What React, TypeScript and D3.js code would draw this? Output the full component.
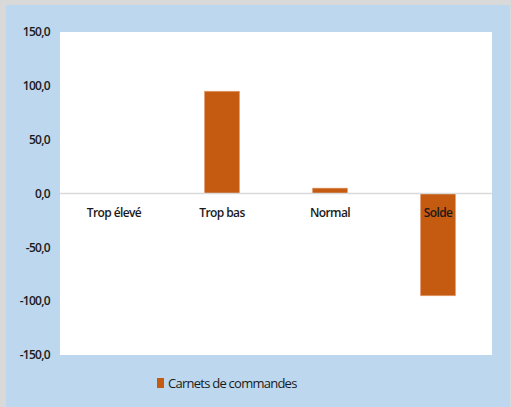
import React from "react";
import * as d3 from "d3";

const categories = ["Trop élevé", "Trop bas", "Normal", "Solde"];
const values = [0, 95, 5, -95];
const yTicks = [150, 100, 50, 0, -50, -100, -150];
const seriesName = "Carnets de commandes";

const W = 511;
const H = 407;
const plot = { left: 60, right: 492, top: 32, bottom: 355 };
const barColor = "#C55A11";
const bg = "#BDD7EE";
const font = "'Open Sans', sans-serif";

export default function App() {
  const x = d3
    .scaleBand<string>()
    .domain(categories)
    .range([plot.left, plot.right])
    .paddingInner(0.675)
    .paddingOuter(0.3375);
  const y = d3.scaleLinear().domain([-150, 150]).range([plot.bottom, plot.top]);
  const fmt = (v: number) => v.toFixed(1).replace(".", ",");

  return (
    <svg
      width={W}
      height={H}
      style={{ position: "absolute", left: 0, top: 0 }}
    >
      <rect x={0} y={0} width={W} height={H} fill="#D9D9D9" />
      <rect x={6} y={5} width={W - 7} height={H - 5} fill={bg} />
      <rect
        x={plot.left}
        y={plot.top}
        width={plot.right - plot.left}
        height={plot.bottom - plot.top}
        fill="#FFFFFF"
      />
      {yTicks.map((t) => (
        <text
          key={t}
          x={50}
          y={y(t)}
          dy="0.35em"
          textAnchor="end"
          fontFamily={font}
          fontWeight={600}
          fontSize={12}
          letterSpacing={-0.7}
          fill="#1a1a1a"
        >
          {fmt(t)}
        </text>
      ))}
      {categories.map((c, i) => {
        const v = values[i];
        const y0 = y(0);
        const y1 = y(v);
        return (
          <rect
            key={c}
            x={x(c)}
            y={Math.min(y0, y1)}
            width={x.bandwidth()}
            height={Math.abs(y1 - y0)}
            fill={barColor}
            stroke="#E8A57A"
            strokeWidth={0.6}
          />
        );
      })}
      <line
        x1={plot.left}
        x2={plot.right}
        y1={y(0)}
        y2={y(0)}
        stroke="#D9D9D9"
        strokeWidth={1.5}
      />
      {categories.map((c) => (
        <text
          key={c}
          x={(x(c) ?? 0) + x.bandwidth() / 2}
          y={y(0) + 19}
          dy="0.35em"
          textAnchor="middle"
          fontFamily={font}
          fontWeight={600}
          fontSize={12}
          letterSpacing={-0.6}
          fill="#1a1a1a"
        >
          {c}
        </text>
      ))}
      <rect x={157} y={378} width={7} height={10} fill={barColor} />
      <text
        x={168}
        y={383}
        dy="0.35em"
        fontFamily={font}
        fontWeight={500}
        fontSize={13}
        letterSpacing={-0.75}
        fill="#1a1a1a"
      >
        {seriesName}
      </text>
    </svg>
  );
}
